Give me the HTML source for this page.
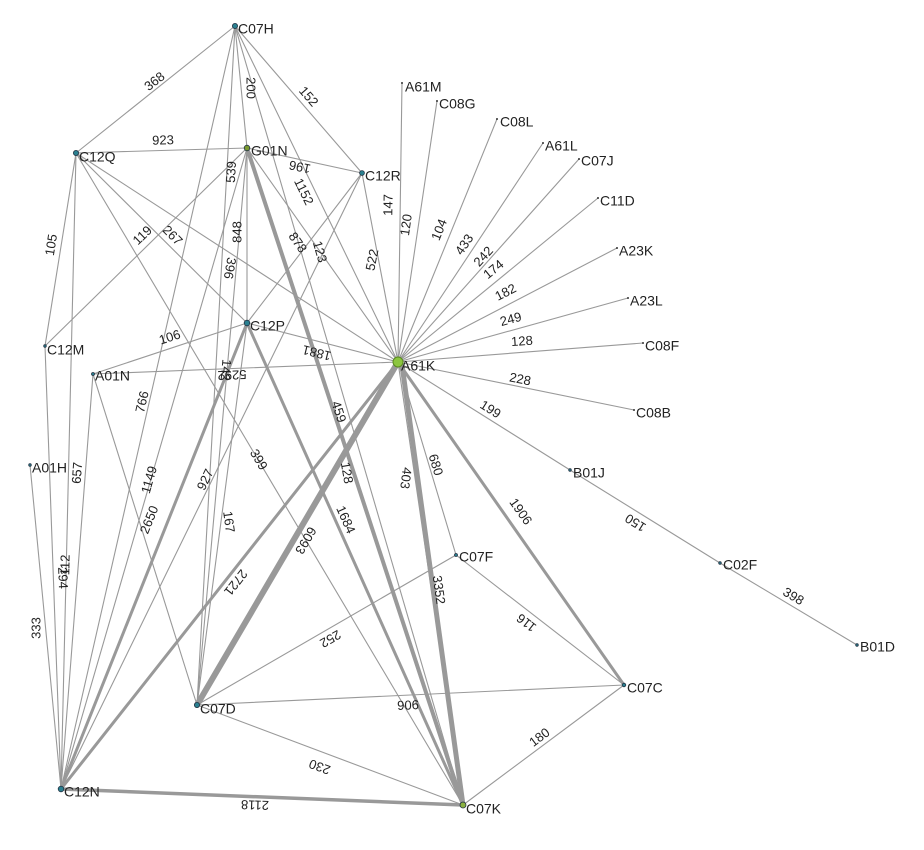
<!DOCTYPE html>
<html><head><meta charset="utf-8"><style>
html,body{margin:0;padding:0;background:#fff;}
svg{display:block;}
text{font-family:"Liberation Sans",sans-serif;fill:#222;}
.l{font-size:13px;text-anchor:middle;dominant-baseline:middle;}
.n{font-size:14px;dominant-baseline:middle;}
line{stroke:#999;stroke-linecap:round;}
</style></head><body>
<svg width="924" height="850" viewBox="0 0 924 850" xmlns="http://www.w3.org/2000/svg">
<g stroke-width="1.1">
<line x1="235" y1="26" x2="76" y2="153"/>
<line x1="235" y1="26" x2="247" y2="148"/>
<line x1="235" y1="26" x2="362" y2="173"/>
<line x1="235" y1="26" x2="61" y2="789"/>
<line x1="235" y1="26" x2="197" y2="705"/>
<line x1="235" y1="26" x2="463" y2="805"/>
<line x1="235" y1="26" x2="398" y2="362"/>
<line x1="76" y1="153" x2="247" y2="148"/>
<line x1="76" y1="153" x2="45" y2="346"/>
<line x1="76" y1="153" x2="61" y2="789"/>
<line x1="76" y1="153" x2="247" y2="323"/>
<line x1="76" y1="153" x2="398" y2="362"/>
<line x1="76" y1="153" x2="463" y2="805"/>
<line x1="45" y1="346" x2="247" y2="148"/>
<line x1="45" y1="346" x2="61" y2="789"/>
<line x1="247" y1="148" x2="362" y2="173"/>
<line x1="247" y1="148" x2="247" y2="323"/>
<line x1="247" y1="148" x2="398" y2="362"/>
<line x1="247" y1="148" x2="61" y2="789"/>
<line x1="247" y1="148" x2="197" y2="705"/>
<line x1="362" y1="173" x2="398" y2="362"/>
<line x1="362" y1="173" x2="61" y2="789"/>
<line x1="362" y1="173" x2="247" y2="323"/>
<line x1="247" y1="323" x2="398" y2="362"/>
<line x1="247" y1="323" x2="197" y2="705"/>
<line x1="93" y1="374" x2="398" y2="362"/>
<line x1="93" y1="374" x2="247" y2="323"/>
<line x1="93" y1="374" x2="61" y2="789"/>
<line x1="93" y1="374" x2="197" y2="705"/>
<line x1="30" y1="465" x2="61" y2="789"/>
<line x1="398" y1="362" x2="456" y2="555"/>
<line x1="398" y1="362" x2="570" y2="470"/>
<line x1="570" y1="470" x2="720" y2="563"/>
<line x1="720" y1="563" x2="857" y2="645"/>
<line x1="398" y1="362" x2="402" y2="83"/>
<line x1="398" y1="362" x2="437" y2="101"/>
<line x1="398" y1="362" x2="497" y2="119"/>
<line x1="398" y1="362" x2="543" y2="143"/>
<line x1="398" y1="362" x2="579" y2="159"/>
<line x1="398" y1="362" x2="598" y2="198"/>
<line x1="398" y1="362" x2="617" y2="248"/>
<line x1="398" y1="362" x2="628" y2="298"/>
<line x1="398" y1="362" x2="643" y2="343"/>
<line x1="398" y1="362" x2="634" y2="410"/>
<line x1="456" y1="555" x2="197" y2="705"/>
<line x1="456" y1="555" x2="624" y2="685"/>
<line x1="197" y1="705" x2="624" y2="685"/>
<line x1="197" y1="705" x2="463" y2="805"/>
<line x1="624" y1="685" x2="463" y2="805"/>
<line x1="398" y1="362" x2="463" y2="805"/>
</g>
<line x1="247" y1="148" x2="463" y2="805" stroke-width="4"/>
<line x1="247" y1="323" x2="61" y2="789" stroke-width="3"/>
<line x1="247" y1="323" x2="463" y2="805" stroke-width="3"/>
<line x1="398" y1="362" x2="61" y2="789" stroke-width="3"/>
<line x1="398" y1="362" x2="197" y2="705" stroke-width="6"/>
<line x1="402" y1="365" x2="463" y2="805" stroke-width="5"/>
<line x1="398" y1="362" x2="624" y2="685" stroke-width="3"/>
<line x1="61" y1="789" x2="463" y2="805" stroke-width="3.5"/>

<g class="lbl">
<text class="l" transform="translate(155,82) rotate(-38)">368</text>
<text class="l" transform="translate(250,88) rotate(90)">200</text>
<text class="l" transform="translate(308,97) rotate(49)">152</text>
<text class="l" transform="translate(143,402) rotate(-77)">766</text>
<text class="l" transform="translate(232,172) rotate(-87)">539</text>
<text class="l" transform="translate(319,252) rotate(74)">123</text>
<text class="l" transform="translate(303,192) rotate(64)">1152</text>
<text class="l" transform="translate(163,141) rotate(-1.5)">923</text>
<text class="l" transform="translate(52,245) rotate(-81)">105</text>
<text class="l" transform="translate(66,565) rotate(-89)">112</text>
<text class="l" transform="translate(143,236) rotate(-44)">119</text>
<text class="l" transform="translate(172,236) rotate(45)">267</text>
<text class="l" transform="translate(258,460) rotate(59)">399</text>
<text class="l" transform="translate(300,166) rotate(192)">196</text>
<text class="l" transform="translate(238,232) rotate(-90)">848</text>
<text class="l" transform="translate(297,243) rotate(55)">878</text>
<text class="l" transform="translate(338,412) rotate(72)">459</text>
<text class="l" transform="translate(150,480) rotate(-74)">1149</text>
<text class="l" transform="translate(225,370) rotate(95)">142</text>
<text class="l" transform="translate(229,268) rotate(100)">396</text>
<text class="l" transform="translate(373,260) rotate(-79)">522</text>
<text class="l" transform="translate(206,480) rotate(-64)">927</text>
<text class="l" transform="translate(317,352) rotate(194)">1881</text>
<text class="l" transform="translate(150,520) rotate(-68)">2650</text>
<text class="l" transform="translate(345,520) rotate(66)">1684</text>
<text class="l" transform="translate(228,522) rotate(82)">167</text>
<text class="l" transform="translate(232,374) rotate(178)">5292</text>
<text class="l" transform="translate(170,338) rotate(-18)">106</text>
<text class="l" transform="translate(78,473) rotate(-86)">657</text>
<text class="l" transform="translate(37,628) rotate(-90)">333</text>
<text class="l" transform="translate(62,578) rotate(88)">294</text>
<text class="l" transform="translate(346,473) rotate(80)">128</text>
<text class="l" transform="translate(235,582) rotate(128)">2721</text>
<text class="l" transform="translate(305,540) rotate(120)">6093</text>
<text class="l" transform="translate(438,590) rotate(82)">3352</text>
<text class="l" transform="translate(405,478) rotate(97)">403</text>
<text class="l" transform="translate(520,512) rotate(55)">1906</text>
<text class="l" transform="translate(435,465) rotate(73)">680</text>
<text class="l" transform="translate(490,410) rotate(32)">199</text>
<text class="l" transform="translate(636,522) rotate(212)">150</text>
<text class="l" transform="translate(793,597) rotate(31)">398</text>
<text class="l" transform="translate(389,205) rotate(-89)">147</text>
<text class="l" transform="translate(407,225) rotate(-82)">120</text>
<text class="l" transform="translate(440,230) rotate(-68)">104</text>
<text class="l" transform="translate(465,245) rotate(-56)">433</text>
<text class="l" transform="translate(484,257) rotate(-48)">242</text>
<text class="l" transform="translate(494,270) rotate(-39)">174</text>
<text class="l" transform="translate(506,293) rotate(-27)">182</text>
<text class="l" transform="translate(511,320) rotate(-15)">249</text>
<text class="l" transform="translate(522,342) rotate(-4)">128</text>
<text class="l" transform="translate(520,380) rotate(11)">228</text>
<text class="l" transform="translate(330,638) rotate(150)">252</text>
<text class="l" transform="translate(527,622) rotate(218)">116</text>
<text class="l" transform="translate(408,704) rotate(178)">906</text>
<text class="l" transform="translate(320,766) rotate(200)">230</text>
<text class="l" transform="translate(540,738) rotate(-37)">180</text>
<text class="l" transform="translate(255,804) rotate(182)">2118</text>
</g>

<g stroke="#234" stroke-width="0.8">
<circle cx="235" cy="26" r="2.6" fill="#2a8090"/>
<circle cx="76" cy="153" r="2.6" fill="#2a8090"/>
<circle cx="247" cy="148" r="2.8" fill="#7a9a30"/>
<circle cx="362" cy="173" r="2.4" fill="#2a8090"/>
<circle cx="247" cy="323" r="2.8" fill="#2a8090"/>
<circle cx="45" cy="346" r="1.3" fill="#2a8090"/>
<circle cx="93" cy="374" r="1.5" fill="#2a8090"/>
<circle cx="30" cy="465" r="1.3" fill="#2a8090"/>
<circle cx="456" cy="555" r="1.5" fill="#2a8090"/>
<circle cx="624" cy="685" r="1.8" fill="#2a8090"/>
<circle cx="197" cy="705" r="2.6" fill="#2a8090"/>
<circle cx="61" cy="789" r="2.8" fill="#2a8090"/>
<circle cx="463" cy="805" r="3" fill="#8ab040"/>
<circle cx="570" cy="470" r="1.3" fill="#2a8090"/>
<circle cx="720" cy="563" r="1.3" fill="#2a8090"/>
<circle cx="857" cy="645" r="1.3" fill="#2a8090"/>
</g>
<circle cx="398" cy="362" r="5" fill="#8cc63f" stroke="#5a8a20" stroke-width="1"/>
<g fill="#333">
<circle cx="402" cy="83" r="1"/><circle cx="437" cy="101" r="1"/><circle cx="497" cy="119" r="1"/>
<circle cx="543" cy="143" r="1"/><circle cx="579" cy="159" r="1"/><circle cx="598" cy="198" r="1"/>
<circle cx="617" cy="248" r="1"/><circle cx="628" cy="298" r="1"/><circle cx="643" cy="343" r="1"/>
<circle cx="634" cy="410" r="1"/>
</g>

<g>
<text class="n" x="238" y="30">C07H</text>
<text class="n" x="79" y="158">C12Q</text>
<text class="n" x="251" y="152">G01N</text>
<text class="n" x="365" y="177">C12R</text>
<text class="n" x="250" y="327">C12P</text>
<text class="n" x="47" y="351">C12M</text>
<text class="n" x="95" y="377">A01N</text>
<text class="n" x="32" y="469">A01H</text>
<text class="n" x="459" y="558">C07F</text>
<text class="n" x="627" y="689">C07C</text>
<text class="n" x="200" y="710">C07D</text>
<text class="n" x="64" y="793">C12N</text>
<text class="n" x="466" y="810">C07K</text>
<text class="n" x="401" y="367">A61K</text>
<text class="n" x="573" y="474">B01J</text>
<text class="n" x="723" y="566">C02F</text>
<text class="n" x="860" y="648">B01D</text>
<text class="n" x="405" y="88">A61M</text>
<text class="n" x="439" y="105">C08G</text>
<text class="n" x="500" y="123">C08L</text>
<text class="n" x="545" y="147">A61L</text>
<text class="n" x="581" y="162">C07J</text>
<text class="n" x="600" y="202">C11D</text>
<text class="n" x="619" y="252">A23K</text>
<text class="n" x="630" y="302">A23L</text>
<text class="n" x="645" y="347">C08F</text>
<text class="n" x="636" y="414">C08B</text>
</g>
</svg>
</body></html>
